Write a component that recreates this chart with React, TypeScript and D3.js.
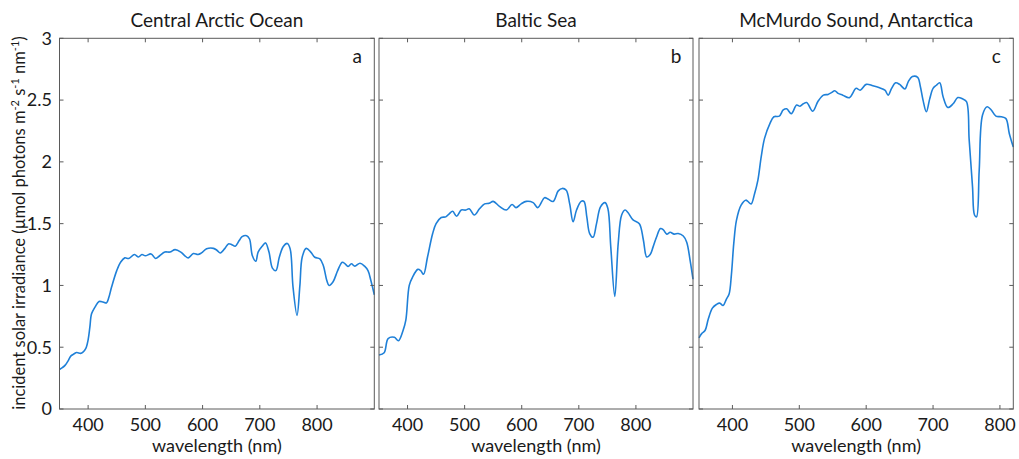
import React from 'react';
import * as d3 from 'd3';

// wavelength (nm), incident irradiance (µmol photons m-2 s-1 nm-1)
const arcticSpectrum: [number, number][] = [
  [350, 0.32], [355, 0.335], [360, 0.355], [365, 0.39], [370, 0.43], [375, 0.445], [380, 0.457],
  [387, 0.45], [391, 0.46], [396, 0.49], [400, 0.56], [403, 0.66], [406, 0.77], [412, 0.825],
  [419, 0.87], [426, 0.866], [432, 0.858], [436, 0.9], [441, 0.987], [450, 1.12], [457, 1.19],
  [464, 1.223], [471, 1.218], [481, 1.25], [488, 1.23], [494, 1.25], [500, 1.24], [510, 1.255],
  [518, 1.218], [525, 1.24], [534, 1.27], [543, 1.27], [552, 1.29], [562, 1.27], [569, 1.24],
  [575, 1.223], [584, 1.258], [592, 1.25], [598, 1.263], [607, 1.296], [619, 1.3], [625, 1.285],
  [631, 1.263], [639, 1.3], [645, 1.336], [651, 1.33], [657, 1.317], [664, 1.363], [669, 1.395],
  [677, 1.403], [682, 1.376], [687, 1.24], [693, 1.196], [697, 1.27], [704, 1.317], [710, 1.344],
  [716, 1.27], [722, 1.14], [728, 1.12], [734, 1.228], [741, 1.315], [748, 1.34], [753, 1.296],
  [758, 0.987], [765, 0.758], [770, 1.0], [774, 1.228], [781, 1.3], [789, 1.27], [796, 1.228],
  [805, 1.215], [811, 1.16], [817, 1.04], [821, 1.0], [828, 1.03], [836, 1.12], [844, 1.188],
  [849, 1.175], [854, 1.153], [860, 1.175], [866, 1.156], [875, 1.18], [883, 1.156], [889, 1.12],
  [894, 1.04], [900, 0.925],
];

const balticSpectrum: [number, number][] = [
  [350, 0.437], [359, 0.455], [366, 0.57], [377, 0.58], [384, 0.553], [392, 0.634], [397, 0.72],
  [403, 1.0], [409, 1.07], [418, 1.13], [423, 1.12], [428, 1.09], [435, 1.23], [444, 1.42],
  [450, 1.5], [459, 1.55], [467, 1.555], [473, 1.58], [479, 1.6], [486, 1.56], [494, 1.61],
  [502, 1.61], [508, 1.62], [517, 1.57], [526, 1.62], [535, 1.66], [543, 1.665], [550, 1.68],
  [561, 1.64], [573, 1.61], [583, 1.655], [590, 1.63], [599, 1.66], [608, 1.68], [620, 1.67],
  [628, 1.63], [640, 1.71], [646, 1.7], [655, 1.68], [664, 1.765], [671, 1.785], [678, 1.77],
  [684, 1.66], [690, 1.515], [696, 1.61], [704, 1.68], [709, 1.68], [714, 1.555], [719, 1.42],
  [725, 1.39], [731, 1.5], [738, 1.636], [746, 1.67], [751, 1.62], [756, 1.31], [763, 0.91],
  [769, 1.34], [775, 1.57], [781, 1.61], [786, 1.59], [795, 1.53], [806, 1.5], [813, 1.37],
  [819, 1.23], [825, 1.25], [830, 1.31], [836, 1.39], [843, 1.46], [848, 1.45], [854, 1.415],
  [860, 1.43], [867, 1.415], [874, 1.42], [883, 1.4], [889, 1.35], [895, 1.2], [900, 1.05],
];

const mcmurdoSpectrum: [number, number][] = [
  [350, 0.576], [354, 0.61], [359, 0.635], [364, 0.73], [370, 0.816], [376, 0.846], [381, 0.857],
  [386, 0.838], [391, 0.89], [395, 0.93], [398.5, 1.09], [402, 1.34], [406, 1.527], [413, 1.65],
  [420, 1.69], [423, 1.68], [428, 1.66], [433, 1.74], [438, 1.85], [443, 2.04], [448, 2.19],
  [456, 2.31], [462, 2.365], [470, 2.37], [476, 2.42], [481, 2.43], [488, 2.39], [496, 2.46],
  [501, 2.45], [506, 2.47], [511, 2.48], [520, 2.41], [528, 2.49], [536, 2.54], [543, 2.546],
  [548, 2.56], [553, 2.576], [558, 2.554], [565, 2.54], [575, 2.52], [585, 2.595], [591, 2.58],
  [600, 2.627], [610, 2.616], [620, 2.6], [628, 2.58], [633, 2.54], [638, 2.595], [644, 2.64],
  [650, 2.627], [658, 2.59], [663, 2.65], [669, 2.69], [677, 2.684], [681, 2.61], [685, 2.5],
  [690, 2.405], [695, 2.51], [700, 2.595], [705, 2.62], [710, 2.64], [715, 2.527], [722, 2.44],
  [730, 2.47], [737, 2.52], [744, 2.51], [750, 2.487], [754, 2.18], [759, 1.8], [762, 1.57],
  [765, 1.555], [769, 1.93], [774, 2.38], [781, 2.446], [787, 2.42], [794, 2.37], [802, 2.365],
  [809, 2.35], [814, 2.23], [820, 2.12],
];

const panelTitles = ['Central Arctic Ocean', 'Baltic Sea', 'McMurdo Sound, Antarctica'];
const panelLetters = ['a', 'b', 'c'];
const panelDomains: [number, number][] = [[350, 900], [350, 900], [350, 820]];
const xTickValues = [400, 500, 600, 700, 800];
const yTickValues = [0, 0.5, 1, 1.5, 2, 2.5, 3];

const spectra = [arcticSpectrum, balticSpectrum, mcmurdoSpectrum];

const WIDTH = 1019;
const HEIGHT = 459;
const FONT = 'Lato, "Open Sans", sans-serif';
const panelLeft = [59.5, 379, 699];
const panelRight = [374.3, 693, 1013.3];
const top = 38.3;
const bottom = 409;
const axisColor = '#5a5a5a';
const textColor = '#1a1a1a';
const lineColor = '#1f80d8';

const Panel: React.FC<{ i: number }> = ({ i }) => {
  const x = d3.scaleLinear().domain(panelDomains[i]).range([panelLeft[i], panelRight[i]]);
  const y = d3.scaleLinear().domain([0, 3]).range([bottom, top]);
  const line = d3.line<[number, number]>()
    .x(d => x(d[0]))
    .y(d => y(d[1]))
    .curve(d3.curveCatmullRom.alpha(0.5));
  const tk = 4;
  const x0 = panelLeft[i];
  const x1 = panelRight[i];
  const midX = (x0 + x1) / 2;

  return (
    <g>
      <path d={line(spectra[i]) || ''} fill="none" stroke={lineColor} strokeWidth={1.6} strokeLinejoin="round" />
      <rect x={x0} y={top} width={x1 - x0} height={bottom - top} fill="none" stroke={axisColor} strokeWidth={1} />
      {xTickValues.map(t => (
        <g key={`x${t}`}>
          <line x1={x(t)} x2={x(t)} y1={bottom} y2={bottom - tk} stroke={axisColor} />
          <line x1={x(t)} x2={x(t)} y1={top} y2={top + tk} stroke={axisColor} />
          <text x={x(t)} y={431} textAnchor="middle" fontSize={18} fill={textColor}>{t}</text>
        </g>
      ))}
      {yTickValues.map(t => (
        <g key={`y${t}`}>
          <line x1={x0} x2={x0 + tk} y1={y(t)} y2={y(t)} stroke={axisColor} />
          <line x1={x1} x2={x1 - tk} y1={y(t)} y2={y(t)} stroke={axisColor} />
          {i === 0 && (
            <text x={52} y={y(t)} dy="0.35em" textAnchor="end" fontSize={18} fill={textColor}>{t}</text>
          )}
        </g>
      ))}
      <text x={midX} y={452} textAnchor="middle" fontSize={18} fill={textColor}>wavelength (nm)</text>
      <text x={midX} y={27} textAnchor="middle" fontSize={19} fill={textColor}>{panelTitles[i]}</text>
      <text x={x1 - 17} y={63} textAnchor="middle" fontSize={19} fill={textColor}>{panelLetters[i]}</text>
    </g>
  );
};

export default function App() {
  return (
    <svg
      width={WIDTH}
      height={HEIGHT}
      style={{ position: 'absolute', left: 0, top: 0, background: '#fff' }}
      fontFamily={FONT}
    >
      {[0, 1, 2].map(i => <Panel key={i} i={i} />)}
      <text
        transform={`translate(25, ${(34 + 412) / 2}) rotate(-90)`}
        textAnchor="middle"
        fontSize={16.5}
        fill={textColor}
      >
        incident solar irradiance (µmol photons m
        <tspan dy={-6} fontSize={11}>-2</tspan>
        <tspan dy={6}> s</tspan>
        <tspan dy={-6} fontSize={11}>-1</tspan>
        <tspan dy={6}> nm</tspan>
        <tspan dy={-6} fontSize={11}>-1</tspan>
        <tspan dy={6}>)</tspan>
      </text>
    </svg>
  );
}
